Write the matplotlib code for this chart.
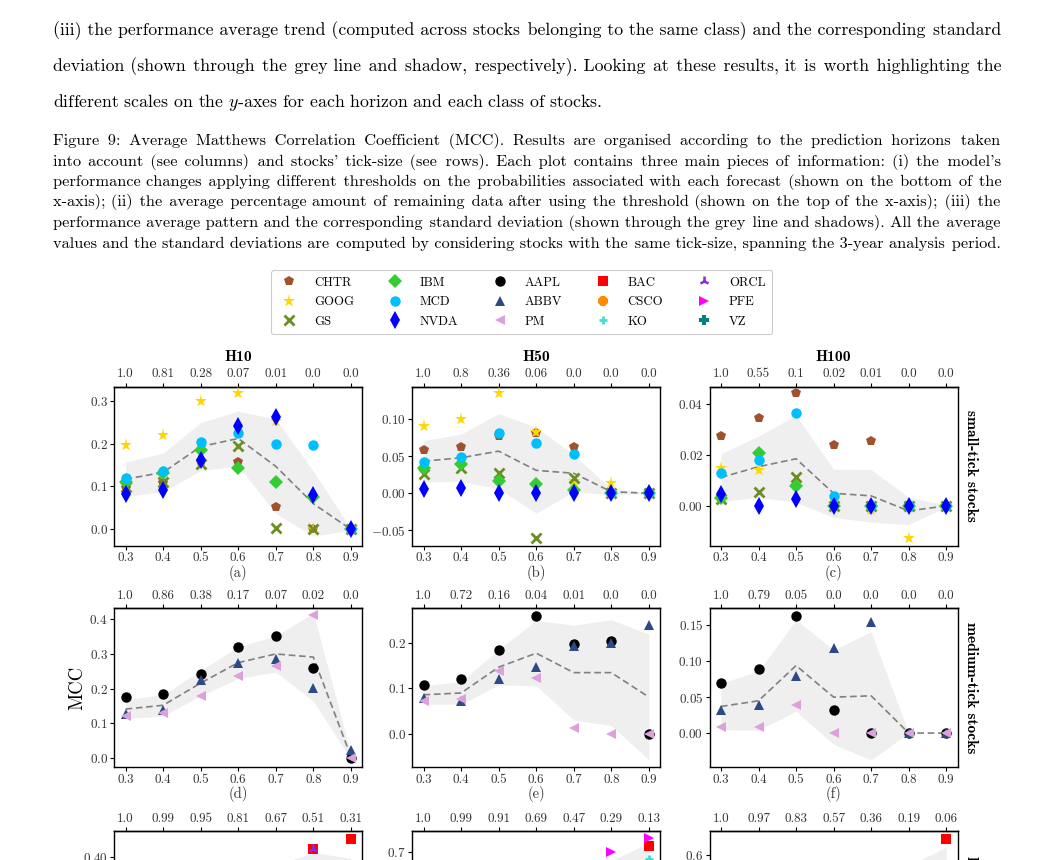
import numpy as np
import matplotlib
matplotlib.use('Agg')
import matplotlib.pyplot as plt
from matplotlib.lines import Line2D
from matplotlib import font_manager
from matplotlib.ft2font import FT2Font

plt.rcParams['font.family'] = 'cmr10'
plt.rcParams['mathtext.fontset'] = 'cm'
plt.rcParams['axes.formatter.use_mathtext'] = True
plt.rcParams['axes.unicode_minus'] = True

nan = np.nan

# ---------------- data ----------------
THRESHOLDS = [0.3, 0.4, 0.5, 0.6, 0.7, 0.8, 0.9]
HORIZONS = ['H10', 'H50', 'H100']
ROW_LABELS = ['small-tick stocks', 'medium-tick stocks', 'large-tick stocks']
PANEL_LETTERS = ['(a)', '(b)', '(c)', '(d)', '(e)', '(f)', '(g)', '(h)', '(i)']
STOCKS = ['CHTR', 'GOOG', 'GS', 'IBM', 'MCD', 'NVDA', 'AAPL', 'ABBV', 'PM',
          'BAC', 'CSCO', 'KO', 'ORCL', 'PFE', 'VZ']

# remaining data share (top axis labels)
pct_h10_small = ['1.0', '0.81', '0.28', '0.07', '0.01', '0.0', '0.0']
pct_h50_small = ['1.0', '0.8', '0.36', '0.06', '0.0', '0.0', '0.0']
pct_h100_small = ['1.0', '0.55', '0.1', '0.02', '0.01', '0.0', '0.0']
pct_h10_medium = ['1.0', '0.86', '0.38', '0.17', '0.07', '0.02', '0.0']
pct_h50_medium = ['1.0', '0.72', '0.16', '0.04', '0.01', '0.0', '0.0']
pct_h100_medium = ['1.0', '0.79', '0.05', '0.0', '0.0', '0.0', '0.0']
pct_h10_large = ['1.0', '0.99', '0.95', '0.81', '0.67', '0.51', '0.31']
pct_h50_large = ['1.0', '0.99', '0.91', '0.69', '0.47', '0.29', '0.13']
pct_h100_large = ['1.0', '0.97', '0.83', '0.57', '0.36', '0.19', '0.06']

# MCC per stock
mcc_h10_small = {
    'CHTR': [0.097, 0.109, 0.156, 0.157, 0.051, 0.0, 0.0],
    'GOOG': [0.196, 0.220, 0.300, 0.319, 0.253, 0.0, 0.0],
    'GS':   [0.099, 0.110, 0.152, 0.194, 0.003, 0.0, 0.0],
    'IBM':  [0.111, 0.132, 0.186, 0.143, 0.111, 0.076, 0.0],
    'MCD':  [0.120, 0.137, 0.204, 0.224, 0.198, 0.196, 0.0],
    'NVDA': [0.082, 0.091, 0.161, 0.240, 0.263, 0.079, 0.0],
}
mcc_h50_small = {
    'CHTR': [0.058, 0.063, 0.078, 0.082, 0.0625, 0.0, 0.0],
    'GOOG': [0.0905, 0.100, 0.136, 0.083, 0.016, 0.0136, 0.0],
    'GS':   [0.0267, 0.034, 0.028, -0.0606, 0.020, 0.0, 0.0],
    'IBM':  [0.0335, 0.040, 0.0167, 0.0122, 0.005, 0.0, 0.0],
    'MCD':  [0.0425, 0.049, 0.081, 0.068, 0.0525, 0.0, 0.0],
    'NVDA': [0.0063, 0.0068, 0.0005, 0.0, 0.0, 0.0, 0.0],
}
mcc_h100_small = {
    'CHTR': [0.0273, 0.0342, 0.0442, 0.0236, 0.0252, 0.0, 0.0],
    'GOOG': [0.0148, 0.0139, 0.008, 0.0, -0.0017, -0.0127, 0.0],
    'GS':   [0.0026, 0.0054, 0.0111, 0.0, 0.0, 0.0, 0.0],
    'IBM':  [0.0029, 0.0206, 0.0077, 0.0, 0.0, 0.0, 0.0],
    'MCD':  [0.013, 0.0178, 0.0363, 0.0037, 0.0, 0.0, 0.0],
    'NVDA': [0.0047, 0.0001, 0.0026, 0.0, 0.0, 0.0, 0.0],
}
mcc_h10_medium = {
    'AAPL': [0.1746, 0.185, 0.2436, 0.321, 0.353, 0.259, 0.0],
    'ABBV': [0.1276, 0.138, 0.2235, 0.275, 0.285, 0.2015, 0.023],
    'PM':   [0.120, 0.1295, 0.179, 0.235, 0.265, 0.4115, 0.0],
}
mcc_h50_medium = {
    'AAPL': [0.1066, 0.120, 0.184, 0.261, 0.198, 0.204, 0.0],
    'ABBV': [0.0787, 0.073, 0.121, 0.1485, 0.194, 0.2015, 0.2404],
    'PM':   [0.0713, 0.0772, 0.1375, 0.124, 0.0132, 0.0, 0.0],
}
mcc_h100_medium = {
    'AAPL': [0.0692, 0.0886, 0.163, 0.0318, 0.0, 0.0, 0.0],
    'ABBV': [0.0323, 0.0383, 0.0794, 0.1186, 0.154, 0.0, 0.0],
    'PM':   [0.0088, 0.0083, 0.0388, 0.0, 0.0, 0.0, 0.0],
}
# large-tick row: only the top of the panels is visible
mcc_h10_large = {
    'BAC':  [nan, nan, nan, nan, nan, 0.4146, 0.434],
    'ORCL': [nan, nan, nan, nan, nan, 0.4146, nan],
}
mcc_h50_large = {
    'BAC':  [nan, nan, nan, nan, nan, nan, 0.716],
    'KO':   [nan, nan, nan, nan, nan, nan, 0.683],
    'PFE':  [nan, nan, nan, nan, nan, 0.699, 0.735],
}
mcc_h100_large = {
    'BAC':  [nan, nan, nan, nan, nan, nan, 0.667],
}

# class averages and standard deviations
mean_h10_small = [0.117, 0.133, 0.193, 0.212, 0.147, 0.060, 0.0]
std_h10_small = [0.040, 0.045, 0.056, 0.064, 0.110, 0.076, 0.002]
mean_h50_small = [0.0434, 0.048, 0.057, 0.031, 0.027, 0.002, 0.0]
std_h50_small = [0.028, 0.032, 0.051, 0.058, 0.025, 0.004, 0.0005]
mean_h100_small = [0.0111, 0.0153, 0.0184, 0.0049, 0.0039, -0.002, 0.0]
std_h100_small = [0.0093, 0.012, 0.017, 0.0094, 0.0103, 0.0053, 0.0004]
mean_h10_medium = [0.141, 0.152, 0.216, 0.275, 0.300, 0.291, 0.005]
std_h10_medium = [0.027, 0.031, 0.036, 0.046, 0.052, 0.127, 0.009]
mean_h50_medium = [0.086, 0.090, 0.147, 0.178, 0.135, 0.135, 0.081]
std_h50_medium = [0.0206, 0.025, 0.039, 0.072, 0.105, 0.117, 0.139]
mean_h100_medium = [0.0369, 0.0448, 0.0937, 0.0498, 0.0517, 0.0, 0.0]
std_h100_medium = [0.0323, 0.041, 0.0635, 0.0655, 0.089, 0.0, 0.0]
mean_h10_large = [nan, nan, nan, nan, 0.300, 0.320, 0.300]
std_h10_large = [nan, nan, nan, nan, 0.084, 0.088, 0.097]
mean_h50_large = [nan, nan, nan, nan, nan, 0.550, 0.600]
std_h50_large = [nan, nan, nan, nan, nan, 0.128, 0.123]
mean_h100_large = [nan, nan, nan, nan, nan, 0.450, 0.500]
std_h100_large = [nan, nan, nan, nan, nan, 0.107, 0.132]

# ---------------- styles ----------------
STYLE = {
    'CHTR': dict(marker='p', color='sienna', ms=7.5),
    'GOOG': dict(marker='*', color='gold', ms=9.5),
    'GS':   dict(marker='x', color='olivedrab', ms=6.5, mew=2.0),
    'IBM':  dict(marker='D', color='limegreen', ms=7),
    'MCD':  dict(marker='o', color='deepskyblue', ms=7.5),
    'NVDA': dict(marker='d', color='blue', ms=9),
    'AAPL': dict(marker='o', color='black', ms=7.5),
    'ABBV': dict(marker='^', color='#2c4a86', ms=7.5),
    'PM':   dict(marker='<', color='plum', ms=7.5),
    'BAC':  dict(marker='s', color='red', ms=7),
    'CSCO': dict(marker='8', color='darkorange', ms=7.5),
    'KO':   dict(marker='+', color='turquoise', ms=6, mew=2.0),
    'ORCL': dict(marker='2', color='blueviolet', ms=7, mew=1.8),
    'PFE':  dict(marker='>', color='magenta', ms=7.5),
    'VZ':   dict(marker='P', color='teal', ms=7),
}

def mk(name):
    st = dict(STYLE[name])
    kw = dict(ls='none', marker=st['marker'], color=st['color'], markersize=st['ms'])
    if st['marker'] in ('x', '2', '+', '1'):
        kw['markeredgewidth'] = st.get('mew', 1.5)
    else:
        kw['markeredgewidth'] = 0
    return kw

W, H = 1055, 860
fig = plt.figure(figsize=(W / 100, H / 100), dpi=100)
renderer = fig.canvas.get_renderer()

def fx(px):
    return px / W

def fy(py):
    return 1 - py / H

# family list: Computer Modern, with DejaVu providing fine spacing characters
FAM = ['cmr10', 'DejaVu Sans']
_cmap = FT2Font(font_manager.findfont('DejaVu Sans')).get_charmap()
FINE = '\u200a' if 0x200a in _cmap else ('\u2009' if 0x2009 in _cmap else '')

def text_width(s, size, family=FAM):
    t = fig.text(0, 0, s, fontsize=size, family=family)
    w = t.get_window_extent(renderer).width
    t.remove()
    return w

def fit_size(s, target, size0=10.0):
    return size0 * target / text_width(s, size0)

# ---------------- justified body text (one text object per line) ----------------
def justified(lines, baselines, x0, x1, size, ragged_last):
    fine_w = 0.0
    if FINE:
        fine_w = (text_width('a' + FINE * 20 + 'b', size) - text_width('ab', size)) / 20.0
    for i, (line, yb) in enumerate(zip(lines, baselines)):
        s = line
        if not (ragged_last and i == len(lines) - 1) and fine_w > 0.05:
            words = line.split(' ')
            n = len(words) - 1
            deficit = (x1 - x0) - text_width(line, size)
            N = max(0, int(round(deficit / fine_w)))
            parts = [words[0]]
            for g in range(n):
                k = (g + 1) * N // n - g * N // n
                parts.append(' ' + FINE * k + words[g + 1])
            s = ''.join(parts)
        fig.text(fx(x0), fy(yb), s, fontsize=size, va='baseline', ha='left', family=FAM)

body = [
    "(iii) the performance average trend (computed across stocks belonging to the same class) and the corresponding standard",
    "deviation (shown through the grey line and shadow, respectively). Looking at these results, it is worth highlighting the",
    "different scales on the $y$-axes for each horizon and each class of stocks.",
]
body_size = min(fit_size(body[2], 553), fit_size(body[0], 945), fit_size(body[1], 945))
justified(body, [35, 71, 107], 53, 1001, body_size, True)

caption = [
    "Figure 9: Average Matthews Correlation Coefficient (MCC). Results are organised according to the prediction horizons taken",
    "into account (see columns) and stocks' tick-size (see rows). Each plot contains three main pieces of information: (i) the model's",
    "performance changes applying different thresholds on the probabilities associated with each forecast (shown on the bottom of the",
    "x-axis); (ii) the average percentage amount of remaining data after using the threshold (shown on the top of the x-axis); (iii) the",
    "performance average pattern and the corresponding standard deviation (shown through the grey line and shadows). All the average",
    "values and the standard deviations are computed by considering stocks with the same tick-size, spanning the 3-year analysis period.",
]
cap_size = min(fit_size(caption[5], 946), *[fit_size(l, 946) for l in caption[:5]])
justified(caption, [145, 165.5, 186, 206.5, 227, 247.5], 53, 1001, cap_size, False)

# ---------------- legend ----------------
handles = [Line2D([], [], **mk(s)) for s in STOCKS]
leg = fig.legend(handles, STOCKS, ncol=5, loc='upper left',
                 bbox_to_anchor=(fx(271), fy(270)), bbox_transform=fig.transFigure,
                 fontsize=9.2, handlelength=1.85, handletextpad=1.0,
                 columnspacing=2.3, labelspacing=0.58, borderpad=0.52,
                 borderaxespad=0, frameon=True, fancybox=True,
                 edgecolor='0.8', framealpha=1.0)
leg.get_frame().set_linewidth(0.8)

# ---------------- panels ----------------
panels = [
    [(mcc_h10_small, mean_h10_small, std_h10_small, pct_h10_small, (-0.0382, 0.3328), [0.0, 0.1, 0.2, 0.3]),
     (mcc_h50_small, mean_h50_small, std_h50_small, pct_h50_small, (-0.0711, 0.1443), [-0.05, 0.0, 0.05, 0.10]),
     (mcc_h100_small, mean_h100_small, std_h100_small, pct_h100_small, (-0.0156, 0.0466), [0.0, 0.02, 0.04])],
    [(mcc_h10_medium, mean_h10_medium, std_h10_medium, pct_h10_medium, (-0.0269, 0.4317), [0.0, 0.1, 0.2, 0.3, 0.4]),
     (mcc_h50_medium, mean_h50_medium, std_h50_medium, pct_h50_medium, (-0.0743, 0.2772), [0.0, 0.1, 0.2]),
     (mcc_h100_medium, mean_h100_medium, std_h100_medium, pct_h100_medium, (-0.0475, 0.1731), [0.0, 0.05, 0.10, 0.15])],
    [(mcc_h10_large, mean_h10_large, std_h10_large, pct_h10_large, (0.148, 0.448), [0.20, 0.25, 0.30, 0.35, 0.40]),
     (mcc_h50_large, mean_h50_large, std_h50_large, pct_h50_large, (0.352, 0.752), [0.4, 0.5, 0.6, 0.7]),
     (mcc_h100_large, mean_h100_large, std_h100_large, pct_h100_large, (0.047, 0.697), [0.2, 0.3, 0.4, 0.5, 0.6])],
]

lefts = [114.3, 412.3, 709.7]
tops = [386.7, 608.3, 831.3]
aw, ah = 247.8, 159.0
TICK_FS = 9.4

x = np.array(THRESHOLDS)
for r in range(3):
    for c in range(3):
        vals, mean, std, pct, ylim, yticks = panels[r][c]
        ax = fig.add_axes([fx(lefts[c]), fy(tops[r] + ah), aw / W, ah / H])
        m = np.array(mean, float)
        s = np.array(std, float)
        ax.fill_between(x, m - s, m + s, color='lightgray', alpha=0.35, lw=0, zorder=1)
        ax.plot(x, m, ls='--', color='gray', lw=1.2, dashes=(4, 2.2), zorder=2)
        for name, v in vals.items():
            ax.plot(x, v, zorder=3, clip_on=(r == 2), **mk(name))
        ax.set_xlim(0.27, 0.93)
        ax.set_ylim(*ylim)
        ax.set_xticks(x)
        ax.set_xticklabels([f'{t:.1f}' for t in THRESHOLDS])
        ax.set_yticks(yticks)
        for sp in ax.spines.values():
            sp.set_linewidth(1.0)
            sp.set_color('black')
        ax.tick_params(direction='out', length=3, width=0.8, pad=1.8,
                       labelsize=TICK_FS, labelcolor='0.2', color='black')
        sec = ax.secondary_xaxis('top')
        sec.set_xticks(x)
        sec.set_xticklabels(pct)
        sec.tick_params(direction='out', length=3, width=0.8, pad=1.8,
                        labelsize=TICK_FS, labelcolor='0.2')
        sec.spines['top'].set_linewidth(1.0)
        if r == 0:
            ax.text(0.5, 1.184, HORIZONS[c], transform=ax.transAxes, ha='center',
                    va='center', fontsize=11.2, family='cmb10')
        ax.text(0.5, -0.17, PANEL_LETTERS[3 * r + c], transform=ax.transAxes,
                ha='center', va='center', fontsize=10.5, color='0.2')
        if c == 2:
            ax.text(1.053, 0.5, ROW_LABELS[r], transform=ax.transAxes, rotation=270,
                    ha='center', va='center', fontsize=11.2, family='cmb10')
        if r == 1 and c == 0:
            ax.set_ylabel('MCC', fontsize=13.5)
            ax.yaxis.set_label_coords(-0.112, 0.5)

fig.savefig('out.png', dpi=100)
